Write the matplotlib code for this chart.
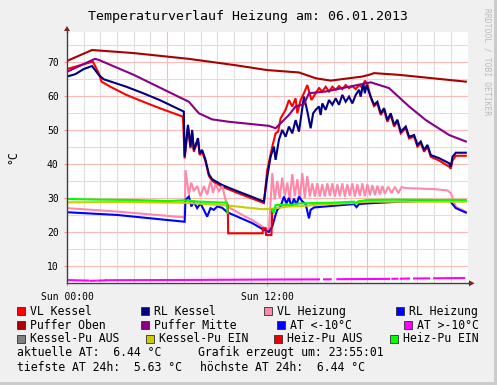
import numpy as np
import matplotlib
matplotlib.use('Agg')
import matplotlib.pyplot as plt
from matplotlib.patches import Rectangle, Polygon

nan = np.nan

# Stunden seit 00:00 und Temperaturen (°C)
vl_kessel_t = [0, 1.55, 1.9, 2.07, 2.6, 3.56, 4.56, 5.55, 6.95, 7.05, 7.25, 7.4, 7.5, 7.6, 7.85, 7.95,
               8.1, 8.3, 8.5, 8.7, 9.3, 10.1, 11.0, 11.8, 12.0, 12.3, 12.5, 12.65, 12.8, 13.1, 13.3,
               13.5, 13.7, 13.8, 14.0, 14.2, 14.4, 14.65, 14.9, 15.1, 15.3, 15.5, 15.7, 15.9, 16.1,
               16.3, 16.5, 16.7, 16.9, 17.1, 17.3, 17.5, 17.7, 17.85, 18.0, 18.2, 18.4, 18.6, 18.8,
               19.0, 19.2, 19.4, 19.6, 19.8, 20.0, 20.3, 20.5, 20.8, 21.0, 21.2, 21.4, 21.6, 21.8,
               22.3, 22.9, 23.0, 23.1, 23.3, 23.9]
vl_kessel = [67.9, 70.1, 66.7, 64.2, 62.7, 60.3, 58.3, 56.4, 53.9, 41.6, 50.8, 44.6, 49.4, 43.6, 47.0, 42.6,
             43.6, 40.7, 36.5, 35.0, 33.3, 31.7, 30.0, 28.5, 38.2, 45.1, 49.0, 49.5, 53.4, 55.9, 58.8,
             56.9, 59.3, 54.9, 58.8, 60.8, 63.2, 58.8, 60.8, 62.3, 61.3, 62.7, 61.3, 62.7, 61.8,
             62.9, 62.0, 63.2, 62.3, 62.9, 62.0, 63.2, 62.5, 64.5, 63.5, 59.5, 57.0, 57.8, 54.4,
             55.9, 52.4, 54.4, 51.0, 52.5, 49.0, 50.5, 47.5, 48.0, 45.1, 46.1, 43.6, 45.1, 42.1,
             41.0, 39.2, 38.6, 41.0, 42.4, 42.4]

rl_kessel_t = [0, 0.5, 1.0, 1.5, 1.9, 2.2, 3.56, 4.56, 5.55, 7.0, 7.05, 7.25, 7.4, 7.5, 7.6, 7.85, 7.95,
               8.1, 8.3, 8.5, 8.7, 9.3, 10.1, 11.0, 11.8, 12.0, 12.2, 12.4, 12.5, 12.7, 12.9, 13.1,
               13.3, 13.5, 13.7, 13.9, 14.2, 14.4, 14.6, 14.75, 14.9, 15.1, 15.2, 15.3, 15.5, 15.7,
               15.9, 16.1, 16.3, 16.5, 16.7, 16.9, 17.1, 17.3, 17.5, 17.6, 17.75, 17.85, 17.95, 18.2,
               18.4, 18.6, 18.8, 19.0, 19.2, 19.4, 19.6, 19.8, 20.0, 20.3, 20.5, 20.8, 21.0, 21.2,
               21.4, 21.6, 21.8, 22.3, 22.9, 23.0, 23.1, 23.3, 23.9]
rl_kessel = [65.7, 66.4, 67.9, 68.8, 66.2, 64.9, 62.7, 60.8, 58.8, 55.4, 42.1, 51.5, 45.1, 50.0, 44.1, 47.6, 43.1,
             44.1, 41.2, 37.0, 35.5, 33.8, 32.2, 30.5, 28.9, 36.3, 42.1, 45.1, 41.2, 47.1, 50.0, 48.0,
             51.0, 49.0, 52.9, 49.5, 59.8, 55.5, 50.5, 54.9, 55.9, 56.9, 54.4, 57.8, 55.9, 58.8,
             57.4, 59.3, 57.4, 60.3, 58.3, 59.8, 57.8, 60.3, 61.8, 59.8, 63.7, 60.8, 63.2, 59.8,
             57.4, 58.3, 54.9, 56.4, 52.9, 54.9, 51.5, 53.0, 49.5, 51.0, 48.0, 48.5, 45.6, 46.6,
             44.1, 45.6, 42.6, 41.7, 40.2, 39.2, 42.1, 43.3, 43.3]

vl_heiz_t = [0, 3, 7.05, 7.1, 7.3, 7.45, 7.6, 7.8, 8.0, 8.2, 8.4, 8.6, 8.75, 8.9, 9.1, 9.3, 9.6, 10.5,
             11.1, 11.7, 12.1, 12.3, 12.45, 12.6, 12.75, 12.9, 13.05, 13.2, 13.35, 13.5, 13.65, 13.8,
             13.95, 14.1, 14.25, 14.4, 14.55, 14.7, 14.85, 15.0, 15.15, 15.3, 15.45, 15.6, 15.75,
             15.9, 16.05, 16.2, 16.35, 16.5, 16.65, 16.8, 16.95, 17.1, 17.25, 17.4, 17.55, 17.7,
             17.85, 18.0, 18.15, 18.3, 18.45, 18.6, 18.75, 18.9, 19.05, 19.25, 19.45, 19.65, 19.85,
             20.05, 20.3, 22.0, 22.8, 23.0, 23.3, 23.9]
vl_heiz = [27.0, 26.0, 24.3, 38.2, 31.0, 34.5, 32.0, 33.5, 30.5, 33.5, 31.0, 35.0, 31.5, 34.0, 32.0, 33.5, 27.5, 25.0,
           23.5, 21.6, 20.4, 37.3, 29.5, 35.0, 30.0, 36.0, 30.5, 34.5, 29.5, 37.0, 30.5, 35.5,
           29.4, 37.3, 30.0, 36.5, 30.4, 34.3, 30.4, 34.3, 30.4, 34.0, 30.4, 34.3, 30.6,
           34.3, 30.4, 34.0, 30.5, 34.3, 30.4, 34.0, 30.6, 34.3, 30.4, 34.0, 30.6, 34.3,
           30.5, 34.0, 30.8, 33.8, 30.8, 33.6, 31.0, 33.5, 31.2, 33.3, 31.4, 33.3, 31.4,
           33.2, 32.9, 32.6, 32.2, 31.4, 27.4, 26.0]

rl_heiz_t = [0, 3, 7.05, 7.1, 7.3, 7.45, 7.6, 7.8, 8.0, 8.2, 8.4, 8.6, 8.8, 9.0, 9.3, 9.6, 11.1, 11.8,
             12.1, 12.3, 12.5, 12.6, 12.8, 13.0, 13.15, 13.3, 13.45, 13.6, 13.75, 13.9, 14.1, 14.3,
             14.5, 14.6, 14.8, 15.5, 17.2, 17.35, 17.5, 18.0, 20.0, 22.9, 23.3, 23.9]
rl_heiz = [25.8, 25.0, 23.0, 29.4, 30.4, 27.5, 28.8, 27.0, 28.4, 26.5, 24.5, 27.0, 26.5, 27.5, 27.1, 25.8, 22.6, 20.6,
           20.0, 21.6, 25.0, 26.5, 27.5, 30.4, 28.4, 30.0, 27.5, 29.8, 28.0, 30.4, 29.0, 28.2,
           24.0, 26.5, 27.2, 27.5, 28.2, 27.3, 28.2, 28.4, 28.9, 29.4, 27.0, 25.7]

puffer_oben_t = [0, 1.5, 4, 7.3, 10, 12, 13.9, 14.9, 15.8, 16.9, 17.7, 18.1, 18.4, 19.9, 21.9, 23.9]
puffer_oben = [70.3, 73.5, 72.6, 70.9, 69.1, 67.6, 66.9, 65.2, 64.5, 65.2, 65.7, 66.2, 66.7, 66.2, 65.2, 64.2]

puffer_mitte_t = [0, 1.67, 1.9, 4, 6.75, 7.3, 7.9, 8.7, 9.7, 12.1, 12.5, 13.3, 13.7, 14.2, 14.5, 15.5,
                  16.9, 17.9, 18.2, 19.3, 20.5, 21.5, 22.9, 23.9]
puffer_mitte = [67.1, 70.9, 70.6, 66.2, 59.6, 58.3, 54.9, 53.1, 52.4, 51.2, 50.5, 54.4, 56.9, 57.6, 60.8, 61.3,
                62.7, 63.7, 64.0, 62.3, 56.9, 52.9, 48.5, 46.6]

at_hoch_t = [0, 1.28, 1.35, 1.42, 1.73, 1.8, 1.87, 2.27, 2.32, 2.37, 8, 12, 15.1, 15.25, 15.4, 15.8, 16.0,
             16.2, 19.3, 19.4, 19.5, 19.8, 19.9, 20.0, 20.5, 20.65, 20.8, 21.7, 21.85, 22.0, 23.8]
at_hoch = [5.85, 5.7, nan, 5.63, 5.68, nan, 5.7, 5.75, nan, 5.8, 5.9, 6.0, 6.05, nan, 6.05, 6.08, nan,
           6.1, 6.2, nan, 6.22, 6.25, nan, 6.25, 6.3, nan, 6.32, 6.35, nan, 6.38, 6.44]

kessel_pu_ein_t = [0, 3, 7, 9.6, 10.7, 11.7, 12.2, 13.3, 14, 15, 17, 18, 23.9]
kessel_pu_ein = [28.7, 28.8, 28.6, 27.8, 27.2, 26.7, 26.8, 27.5, 27.6, 28.0, 28.5, 28.9, 28.9]

heiz_pu_aus_t = [9.63, 9.66, 11.72, 11.75, 11.9, 11.93, 12.25, 12.3]
heiz_pu_aus = [27.8, 19.6, 19.6, 21.1, 21.1, 19.1, 19.1, 26.5]

heiz_pu_ein_t = [0, 2, 4, 6, 7, 8, 9.6, 9.62, 9.7, 12.3, 12.4, 12.5, 13.5, 13.9, 15.9, 17.2, 17.3,
                 17.45, 18, 20, 22, 23.9]
heiz_pu_ein = [29.7, 29.5, 29.4, 29.1, 29.3, 28.9, 28.6, 25.6, nan, 26.5, 25.5, 27.9, 28.0, 28.4, 28.6,
               28.9, 28.3, 29.0, 29.4, 29.5, 29.4, 29.4]

legend_names = ['VL Kessel', 'RL Kessel', 'VL Heizung', 'RL Heizung',
                'Puffer Oben', 'Puffer Mitte', 'AT <-10°C', 'AT >-10°C',
                'Kessel-Pu AUS', 'Kessel-Pu EIN', 'Heiz-Pu AUS', 'Heiz-Pu EIN']
legend_colors = ['#ff0000', '#000080', '#ff88aa', '#0000ff',
                 '#aa0000', '#880088', '#0000ff', '#ff00ff',
                 '#808080', '#cccc00', '#ee0000', '#00ff00']

W, H = 497, 385
mono = 'DejaVu Sans Mono'

fig = plt.figure(figsize=(W / 100, H / 100), dpi=100)
fig.patch.set_facecolor('#f0f0f0')


def px(x, y):
    # Pixel (von oben links) -> Figure-Koordinaten
    return x / W, 1 - y / H


# Rahmen unten/rechts
fig.add_artist(Rectangle(px(494, H), 3 / W, 1, color='#cbcbcb', lw=0))
fig.add_artist(Rectangle(px(0, H), 1, 3 / H, color='#cbcbcb', lw=0))

x0, x1, ytop, ybot = 67, 467.5, 32, 283.3
ax = fig.add_axes([x0 / W, 1 - ybot / H, (x1 - x0) / W, (ybot - ytop) / H])
ax.set_facecolor('white')
ax.set_xlim(0, 24)
ax.set_ylim(4.9, 78.8)

# Gitter
for h in range(1, 24):
    col = '#ffb8b8' if h % 6 == 0 else '#dedede'
    ax.axvline(h, color=col, lw=0.8, zorder=0)
for v in range(10, 79, 5):
    col = '#ffb8b8' if v % 10 == 0 else '#dedede'
    ax.axhline(v, color=col, lw=0.8, zorder=0)

series = [
    (vl_kessel_t, vl_kessel, 0),
    (rl_kessel_t, rl_kessel, 1),
    (vl_heiz_t, vl_heiz, 2),
    (rl_heiz_t, rl_heiz, 3),
    (puffer_oben_t, puffer_oben, 4),
    (puffer_mitte_t, puffer_mitte, 5),
    (at_hoch_t, at_hoch, 7),
    (kessel_pu_ein_t, kessel_pu_ein, 9),
    (heiz_pu_aus_t, heiz_pu_aus, 10),
    (heiz_pu_ein_t, heiz_pu_ein, 11),
]
for t, v, i in series:
    ax.plot(t, v, color=legend_colors[i], lw=1.5, solid_joinstyle='miter', zorder=2)

for s in ['top', 'right']:
    ax.spines[s].set_visible(False)
for s in ['left', 'bottom']:
    ax.spines[s].set_color('#404040')
    ax.spines[s].set_linewidth(1.0)

ax.set_yticks(range(10, 71, 10))
ax.set_yticklabels([str(v) for v in range(10, 71, 10)], fontsize=7, family=mono)
ax.set_xticks([0, 12])
ax.set_xticklabels(['Sun 00:00', 'Sun 12:00'], fontsize=7, family=mono)
ax.tick_params(axis='y', length=2, color='#ff9090', pad=4)
ax.tick_params(axis='x', length=2, color='#ff9090', pad=4)

# Achsenverlaengerung + Pfeile
fig.add_artist(plt.Line2D([x0 / W, x0 / W], [1 - ytop / H, 1 - 29 / H], color='#404040', lw=1.0))
fig.add_artist(plt.Line2D([x1 / W, 470 / W], [1 - ybot / H, 1 - ybot / H], color='#404040', lw=1.0))
fig.add_artist(Polygon([px(64, 31), px(70, 31), px(67, 26)], closed=True, color='#802020', lw=0))
fig.add_artist(Polygon([px(469, 280.3), px(469, 286.3), px(474.5, 283.3)], closed=True, color='#802020', lw=0))

fig.text(0.5, 1 - 16.5 / H, 'Temperaturverlauf Heizung am: 06.01.2013', ha='center', va='center',
         fontsize=9.5, family=mono)
fig.text(13 / W, 1 - 157 / H, '°C', rotation=90, ha='center', va='center', fontsize=8.3, family=mono)
fig.text(487 / W, 1 - 8 / H, 'RRDTOOL / TOBI OETIKER', rotation=270, ha='center', va='top',
         fontsize=5.8, family=mono, color='#bbbbbb')

# Legende
box_x = [[16.7, 140.7, 264, 395.7], [16.7, 140.7, 277, 404], [16.7, 145.7, 274, 390]]
row_y = [311.3, 325.2, 339]
for r in range(3):
    for c in range(4):
        i = r * 4 + c
        bx, by = box_x[r][c], row_y[r]
        fig.add_artist(Rectangle(px(bx, by + 4), 8 / W, 8 / H, facecolor=legend_colors[i],
                                 edgecolor='#303030', lw=0.6))
        fig.text((bx + 13.3) / W, 1 - by / H, legend_names[i], ha='left', va='center',
                 fontsize=8.3, family=mono)

fig.text(16.7 / W, 1 - 352.7 / H, 'aktuelle AT:  6.44 °C', ha='left', va='center', fontsize=8.3, family=mono)
fig.text(198 / W, 1 - 352.7 / H, 'Grafik erzeugt um: 23:55:01', ha='left', va='center', fontsize=8.3, family=mono)
fig.text(16.7 / W, 1 - 367.3 / H, 'tiefste AT 24h:  5.63 °C', ha='left', va='center', fontsize=8.3, family=mono)
fig.text(200 / W, 1 - 367.3 / H, 'höchste AT 24h:  6.44 °C', ha='left', va='center', fontsize=8.3, family=mono)

fig.savefig('out.png', dpi=100, facecolor=fig.get_facecolor())
